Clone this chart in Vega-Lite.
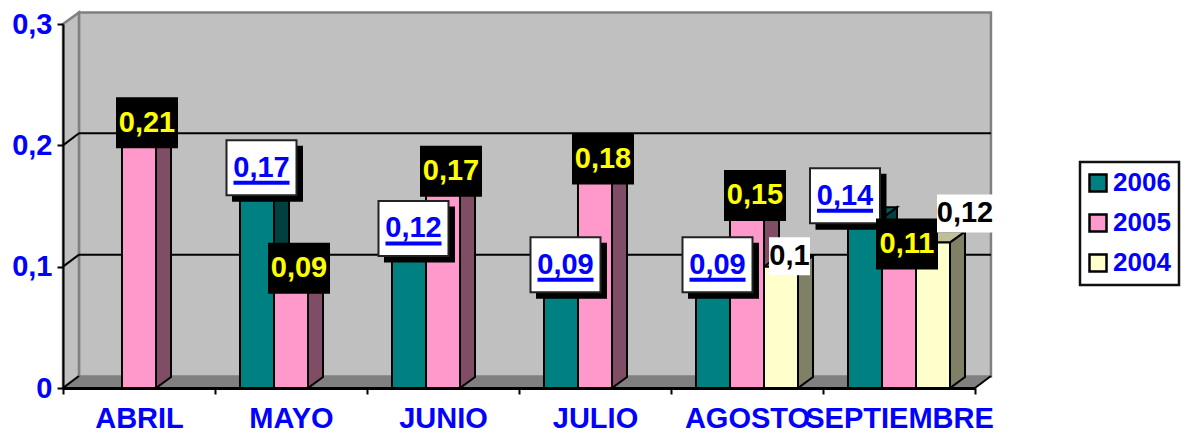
{
"$schema":"https://vega.github.io/schema/vega-lite/v6.json",
"width":912,"height":364,"autosize":{"type":"none"},
"padding":{"left":63,"top":24,"right":213,"bottom":45},
"background":"white",
"view":{"stroke":null},
"config":{"text":{"font":"Liberation Sans"},"legend":{"labelFont":"Liberation Sans","strokeWidth":2.5}},
"data":{"values":[
{"mes":"ABRIL","anio":"2005","v":0.21},
{"mes":"MAYO","anio":"2006","v":0.17},{"mes":"MAYO","anio":"2005","v":0.09},
{"mes":"JUNIO","anio":"2006","v":0.12},{"mes":"JUNIO","anio":"2005","v":0.17},
{"mes":"JULIO","anio":"2006","v":0.09},{"mes":"JULIO","anio":"2005","v":0.18},
{"mes":"AGOSTO","anio":"2006","v":0.09},{"mes":"AGOSTO","anio":"2005","v":0.15},{"mes":"AGOSTO","anio":"2004","v":0.1},
{"mes":"SEPTIEMBRE","anio":"2006","v":0.14},{"mes":"SEPTIEMBRE","anio":"2005","v":0.11},{"mes":"SEPTIEMBRE","anio":"2004","v":0.12}
]},
"transform":[
{"calculate":"indexof(['ABRIL','MAYO','JUNIO','JULIO','AGOSTO','SEPTIEMBRE'],datum.mes)","as":"i"},
{"calculate":"indexof(['2006','2005','2004'],datum.anio)","as":"s"},
{"calculate":"datum.i+0.5+(datum.s-1.5)*0.2237","as":"x0"},
{"calculate":"datum.x0+0.2237","as":"x1"},
{"calculate":"replace(''+datum.v,'.',',')","as":"lab"},
{"calculate":"datum.anio=='2006'?'#004040':datum.anio=='2005'?'#804D66':'#808066'","as":"cs"},
{"calculate":"datum.anio=='2006'?'#006060':datum.anio=='2005'?'#BF7399':'#BFBF99'","as":"ct"},
{"calculate":"(datum.x0+datum.x1)/2+((datum.anio=='2006'?4.5:datum.anio=='2005'?8:8.5)+(datum.mes=='SEPTIEMBRE'?(datum.anio=='2006'?-24.5:datum.anio=='2004'?23.5:0):0))/152","as":"lx"},
{"calculate":"datum.v+((datum.anio=='2006'?14:10.5)+(datum.mes=='SEPTIEMBRE'?(datum.anio=='2006'?8.5:datum.anio=='2004'?18.5:0):0))/1213.3","as":"ly"}
],
"encoding":{
"x":{"field":"px","type":"quantitative","scale":{"domain":[0,6],"nice":false,"zero":false},
"axis":{"title":null,"grid":false,"values":[0,1,2,3,4,5,6],"labelExpr":"['ABRIL','MAYO','JUNIO','JULIO','AGOSTO','SEPTIEMBRE',''][datum.value]","labelOffset":76,"labelAlign":"center","labelBaseline":"top","labelOverlap":false,"labelBound":false,"labelFlush":false,"labelLimit":0,"labelFont":"Liberation Sans","labelFontWeight":"bold","labelFontSize":29,"labelColor":"#0000FF","labelPadding":10,"tickColor":"black","tickWidth":2,"tickSize":6,"domainColor":"black","domainWidth":3,"zindex":1}},
"y":{"field":"py","type":"quantitative","scale":{"domain":[0,0.3],"nice":false,"zero":false},
"axis":{"title":null,"grid":false,"values":[0,0.1,0.2,0.3],"labelExpr":"datum.value==0?'0':replace(format(datum.value,'.1f'),'.',',')","labelFont":"Liberation Sans","labelFontWeight":"bold","labelFontSize":29,"labelColor":"#0000FF","labelPadding":5,"labelOverlap":false,"labelBound":false,"labelFlush":false,"tickColor":"black","tickWidth":2,"tickSize":6,"domainColor":"black","domainWidth":2,"zindex":1}}
},
"layer":[
{"data":{"values":[{"w":0.3}]},"transform":[{"calculate":"[0,1]","as":"t"},{"flatten":["t"]},{"calculate":"0.105+datum.t*6","as":"px"},{"calculate":"datum.w+0.0095","as":"py"},{"calculate":"0.0095","as":"py2"}],
"mark":{"type":"area","fill":"#C0C0C0","stroke":"#808080","strokeWidth":2.5,"line":false,"clip":false},"encoding":{"y2":{"field":"py2"}}},
{"data":{"values":[{"w":0.3}]},"transform":[{"calculate":"[0,1]","as":"t"},{"flatten":["t"]},{"calculate":"datum.t*0.105","as":"px"},{"calculate":"datum.w+datum.t*0.0095","as":"py"},{"calculate":"datum.t*0.0095","as":"py2"}],
"mark":{"type":"area","fill":"#C0C0C0","stroke":"#808080","strokeWidth":2.5},"encoding":{"y2":{"field":"py2"}}},
{"data":{"values":[{"w":0}]},"transform":[{"calculate":"[0,1]","as":"t"},{"flatten":["t"]},{"calculate":"datum.t*0.105","as":"px"},{"calculate":"6+datum.t*0.105","as":"px2"},{"calculate":"datum.t*0.0095","as":"py"}],
"mark":{"type":"area","orient":"horizontal","fill":"#808080"},"encoding":{"x2":{"field":"px2"}}},
{"data":{"values":[{"g":0.1},{"g":0.2}]},"transform":[{"calculate":"0.105","as":"px"},{"calculate":"6.105","as":"px2"},{"calculate":"datum.g+0.0099","as":"py"}],
"mark":{"type":"rule","color":"black","strokeWidth":2},"encoding":{"x2":{"field":"px2"}}},
{"data":{"values":[{"g":0,"b":0},{"g":0.1,"b":0},{"g":0.2,"b":0},{"g":0,"b":6}]},"transform":[{"calculate":"[0,1]","as":"t"},{"flatten":["t"]},{"calculate":"datum.b+datum.t*0.105","as":"px"},{"calculate":"datum.g+datum.t*0.0099","as":"py"},{"calculate":"datum.g+'-'+datum.b","as":"key"}],
"mark":{"type":"line","color":"black","strokeWidth":2},"encoding":{"detail":{"field":"key"}}},
{"transform":[{"calculate":"[0,1]","as":"t"},{"flatten":["t"]},{"calculate":"datum.x1+datum.t*0.0987","as":"px"},{"calculate":"datum.v+datum.t*0.009","as":"py"},{"calculate":"datum.t*0.009","as":"py2"},{"calculate":"datum.mes+datum.anio","as":"key"}],
"mark":{"type":"area","stroke":"black","strokeWidth":2},"encoding":{"y2":{"field":"py2"},"detail":{"field":"key"},"fill":{"field":"cs","type":"nominal","scale":null}}},
{"transform":[{"calculate":"[0,1]","as":"t"},{"flatten":["t"]},{"calculate":"datum.x0+datum.t*0.0987","as":"px"},{"calculate":"datum.x1+datum.t*0.0987","as":"px2"},{"calculate":"datum.v+datum.t*0.009","as":"py"},{"calculate":"datum.mes+datum.anio","as":"key"}],
"mark":{"type":"area","orient":"horizontal","stroke":"black","strokeWidth":2},"encoding":{"x2":{"field":"px2"},"detail":{"field":"key"},"fill":{"field":"ct","type":"nominal","scale":null}}},
{"transform":[{"calculate":"datum.x0","as":"px"},{"calculate":"datum.x1","as":"px2"},{"calculate":"datum.v","as":"py"}],
"mark":{"type":"rect","stroke":"black","strokeWidth":2},
"encoding":{"x2":{"field":"px2"},"y2":{"datum":0},
"color":{"field":"anio","type":"nominal","scale":{"domain":["2006","2005","2004"],"range":["#008080","#FF99CC","#FFFFCC"]},
"legend":{"title":null,"orient":"none","legendX":1017,"legendY":138,"symbolType":"square","symbolSize":289,"symbolStrokeColor":"black","symbolStrokeWidth":2.5,"symbolOffset":-3,"labelFont":"Liberation Sans","labelFontWeight":"bold","labelFontSize":26,"labelColor":"#0000FF","labelOffset":2,"labelExpr":"datum.label+'\u2009'","strokeColor":"#111111","fillColor":"white","padding":8,"rowPadding":12,"symbolOpacity":1}}}},
{"transform":[{"filter":"datum.anio=='2006'"},{"calculate":"datum.lx","as":"px"},{"calculate":"datum.ly","as":"py"}],
"mark":{"type":"point","filled":true,"opacity":1,"color":"black","size":4,"shape":"M-35.5,-28H35.5V28H-35.5Z","xOffset":6,"yOffset":6}},
{"transform":[{"filter":"datum.anio=='2006'"},{"calculate":"datum.lx","as":"px"},{"calculate":"datum.ly","as":"py"}],
"mark":{"type":"point","filled":true,"opacity":1,"fill":"white","stroke":"#222222","strokeWidth":2,"size":4,"shape":"M-35,-27.5H35V27.5H-35Z"}},
{"transform":[{"filter":"datum.anio=='2006'"},{"calculate":"datum.lx","as":"px"},{"calculate":"datum.ly","as":"py"}],
"mark":{"type":"point","filled":true,"opacity":1,"color":"#0000FF","size":4,"shape":"M-28,13H28V17H-28Z"}},
{"transform":[{"filter":"datum.anio=='2006'"},{"calculate":"datum.lx","as":"px"},{"calculate":"datum.ly","as":"py"}],
"mark":{"type":"text","font":"Liberation Sans","fontWeight":"bold","fontSize":29,"color":"#0000FF","align":"center","baseline":"middle"},"encoding":{"text":{"field":"lab"}}},
{"transform":[{"filter":"datum.anio=='2005'"},{"calculate":"datum.lx","as":"px"},{"calculate":"datum.ly","as":"py"}],
"mark":{"type":"point","filled":true,"opacity":1,"color":"black","size":4,"shape":"M-31,-25.5H31V25.5H-31Z"}},
{"transform":[{"filter":"datum.anio=='2005'"},{"calculate":"datum.lx","as":"px"},{"calculate":"datum.ly","as":"py"}],
"mark":{"type":"text","font":"Liberation Sans","fontWeight":"bold","fontSize":29,"color":"#FFFF00","align":"center","baseline":"middle"},"encoding":{"text":{"field":"lab"}}},
{"transform":[{"filter":"datum.anio=='2004'&&length(datum.lab)==3"},{"calculate":"datum.lx","as":"px"},{"calculate":"datum.ly","as":"py"}],
"mark":{"type":"point","filled":true,"opacity":1,"color":"white","size":4,"shape":"M-20.5,-19H20.5V19H-20.5Z"}},
{"transform":[{"filter":"datum.anio=='2004'&&length(datum.lab)==4"},{"calculate":"datum.lx","as":"px"},{"calculate":"datum.ly","as":"py"}],
"mark":{"type":"point","filled":true,"opacity":1,"color":"white","size":4,"shape":"M-28,-19H28V19H-28Z"}},
{"transform":[{"filter":"datum.anio=='2004'"},{"calculate":"datum.lx","as":"px"},{"calculate":"datum.ly","as":"py"}],
"mark":{"type":"text","font":"Liberation Sans","fontWeight":"bold","fontSize":29,"color":"black","align":"center","baseline":"middle"},"encoding":{"text":{"field":"lab"}}}
]
}
